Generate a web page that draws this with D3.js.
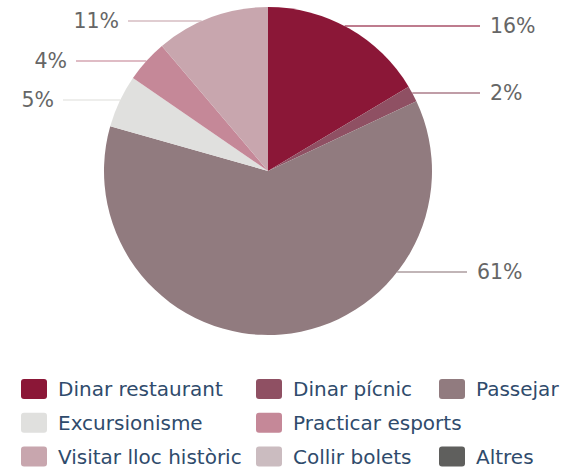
<!DOCTYPE html>
<html>
<head>
<meta charset="utf-8">
<script src="https://cdn.jsdelivr.net/npm/d3@7"></script>
<style>
  body { margin: 0; background: #fff; }
  svg { display: block; font-family: "DejaVu Sans", Verdana, sans-serif; }
</style>
</head>
<body>
<svg id="canvas"></svg>
<script>
// Categories, in drawing order (clockwise from 12 o'clock).
var categories = ['Dinar restaurant', 'Dinar pícnic', 'Passejar', 'Excursionisme',
                  'Practicar esports', 'Visitar lloc històric', 'Collir bolets', 'Altres'];

// Share of each category (%).
var shares = [16.4, 1.6, 61.4, 5.2, 4.2, 11.2, 0, 0];

// Label shown next to each slice.
var shareLabels = ['16%', '2%', '61%', '5%', '4%', '11%', '', ''];

// Slice colours.
var colours = ['#8b1737', '#8f5063', '#917b7f', '#e0e0de',
               '#c58898', '#c8a6ae', '#cbbcc0', '#5f5f5d'];

// Legend rows (category indices per row).
var legendRows = [[0, 1, 2], [3, 4], [5, 6, 7]];

// Canvas properties.
var canvas = { width: 561, height: 470 };

// Pie properties.
var pie = { cx: 268, cy: 171, radius: 164 };

// Label layout: vertical position and end of the leader line, per slice.
var labelLayout = [
  { y: 26, lineEnd: 480 },
  { y: 93, lineEnd: 480 },
  { y: 272, lineEnd: 467 },
  { y: 100, lineEnd: 63 },
  { y: 61, lineEnd: 76 },
  { y: 21, lineEnd: 128 }
];

// Legend layout.
var legend = {
  columns: [21, 256, 439],
  rowTop: 379,
  rowStep: 33.7,
  swatch: { width: 26, height: 20 },
  textGap: 11
};

var svg = d3.select('#canvas')
            .attr('width', canvas.width)
            .attr('height', canvas.height);

var data = categories.map(function(c, i) {
  return { name: c, value: shares[i], label: shareLabels[i], colour: colours[i], index: i };
});

// Pie layout, no sorting so the order is kept.
var pieLayout = d3.pie()
                  .sort(null)
                  .value(function(d) { return d.value; });

var arcs = pieLayout(data);

var arc = d3.arc()
            .innerRadius(0)
            .outerRadius(pie.radius);

var pieGroup = svg.append('g')
                  .attr('transform', 'translate(' + pie.cx + ',' + pie.cy + ')');

// Slices.
pieGroup.selectAll('path')
        .data(arcs.filter(function(a) { return a.value > 0; }))
        .enter()
        .append('path')
        .attr('d', arc)
        .attr('fill', function(a) { return a.data.colour; });

// Leader lines and labels.
arcs.forEach(function(a, i) {
  if (!a.data.label) return;
  var layout = labelLayout[i];
  var dy = layout.y - pie.cy;
  var dx = Math.sqrt(pie.radius * pie.radius - dy * dy);
  var right = layout.lineEnd > pie.cx;
  var startX = right ? pie.cx + dx : pie.cx - dx;

  svg.append('line')
     .attr('x1', startX)
     .attr('y1', layout.y)
     .attr('x2', layout.lineEnd)
     .attr('y2', layout.y)
     .attr('stroke', a.data.colour)
     .attr('stroke-opacity', 0.75)
     .attr('stroke-width', 1.5);

  svg.append('text')
     .attr('x', right ? layout.lineEnd + 10 : layout.lineEnd - 9)
     .attr('y', layout.y)
     .attr('dy', '0.36em')
     .attr('text-anchor', right ? 'start' : 'end')
     .attr('fill', '#666')
     .style('font-size', '20.5px')
     .text(a.data.label);
});

// Legend.
legendRows.forEach(function(row, r) {
  row.forEach(function(idx, c) {
    var g = svg.append('g')
               .attr('transform', 'translate(' + legend.columns[c] + ',' + (legend.rowTop + r * legend.rowStep) + ')');
    g.append('rect')
     .attr('width', legend.swatch.width)
     .attr('height', legend.swatch.height)
     .attr('rx', 3)
     .attr('fill', colours[idx]);
    g.append('text')
     .attr('x', legend.swatch.width + legend.textGap)
     .attr('y', legend.swatch.height / 2)
     .attr('dy', '0.36em')
     .attr('fill', '#2f4b6c')
     .style('font-size', '20px')
     .text(categories[idx]);
  });
});
</script>
</body>
</html>
